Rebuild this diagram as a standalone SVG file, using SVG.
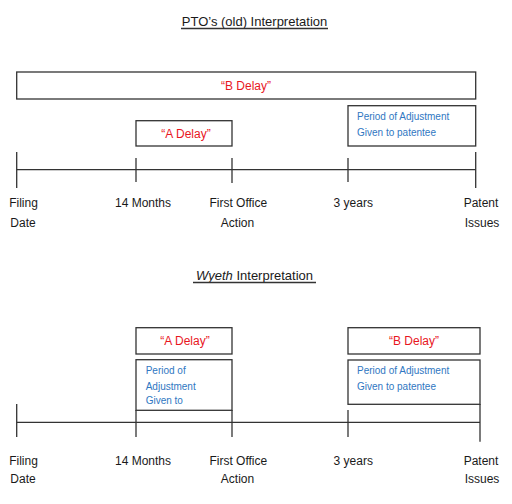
<svg xmlns="http://www.w3.org/2000/svg" width="512" height="504" viewBox="0 0 512 504">
<style>
text{font-family:"Liberation Sans",Arial,sans-serif;}
.title{font-size:13px;fill:#1a1a1a;text-anchor:middle;}
.lbl{font-size:12px;fill:#1a1a1a;text-anchor:middle;}
.red{font-size:12px;fill:#e8161e;text-anchor:middle;}
.blue{font-size:10px;fill:#2f77c2;}
.box{fill:#fff;stroke:#333;stroke-width:1.3;}
.ln{stroke:#333;stroke-width:1.3;fill:none;}
</style>
<rect width="512" height="504" fill="#fff"/>
<g id="title1">
<text class="title" x="254.5" y="26">PTO’s (old) Interpretation</text>
<line class="ln" x1="181" y1="28.5" x2="328" y2="28.5" stroke-width="1"/>
</g>
<g id="title2">
<text class="title" x="254.5" y="280"><tspan font-style="italic">Wyeth</tspan> Interpretation</text>
<line class="ln" x1="193" y1="282.5" x2="316" y2="282.5" stroke-width="1"/>
</g>
<g id="connectors">
<line class="ln" x1="16.7" y1="169.7" x2="475.7" y2="169.7"/>
<line class="ln" x1="16.7" y1="152" x2="16.7" y2="188"/>
<line class="ln" x1="136" y1="158" x2="136" y2="182"/>
<line class="ln" x1="232" y1="158" x2="232" y2="183"/>
<line class="ln" x1="348" y1="158" x2="348" y2="182"/>
<line class="ln" x1="475.7" y1="152" x2="475.7" y2="188"/>
<line class="ln" x1="16.7" y1="422.3" x2="480" y2="422.3"/>
<line class="ln" x1="16.7" y1="404" x2="16.7" y2="437"/>
<line class="ln" x1="136" y1="410" x2="136" y2="437"/>
<line class="ln" x1="232" y1="410" x2="232" y2="437"/>
<line class="ln" x1="348" y1="410" x2="348" y2="437"/>
<line class="ln" x1="480" y1="404" x2="480" y2="441.7"/>
</g>
<g id="b-delay-1">
<rect class="box" x="16.7" y="72" width="459" height="27"/>
<text class="red" x="246" y="90">“B Delay”</text>
</g>
<g id="adjust-1">
<rect class="box" x="348" y="105.7" width="127.7" height="40.3"/>
<text class="blue" x="357" y="120">Period of Adjustment</text>
<text class="blue" x="357" y="136">Given to patentee</text>
</g>
<g id="a-delay-1">
<rect class="box" x="136" y="120.7" width="96" height="25.3"/>
<text class="red" x="186" y="138">“A Delay”</text>
</g>
<g id="labels-1">
<text class="lbl" x="23.5" y="207">Filing</text>
<text class="lbl" x="23" y="227">Date</text>
<text class="lbl" x="143" y="207">14 Months</text>
<text class="lbl" x="238.3" y="207">First Office</text>
<text class="lbl" x="237.5" y="227">Action</text>
<text class="lbl" x="353.3" y="207">3 years</text>
<text class="lbl" x="481" y="207">Patent</text>
<text class="lbl" x="482" y="227">Issues</text>
</g>
<g id="a-delay-2">
<rect class="box" x="136" y="327.7" width="96" height="26.3"/>
<text class="red" x="185" y="345">“A Delay”</text>
</g>
<g id="adjust-2a">
<rect class="box" x="136" y="359.7" width="96" height="50.6"/>
<text class="blue" x="145.7" y="374.3">Period of</text>
<text class="blue" x="145.7" y="390">Adjustment</text>
<text class="blue" x="145.7" y="404">Given to</text>
</g>
<g id="b-delay-2">
<rect class="box" x="348" y="327.7" width="132" height="26.3"/>
<text class="red" x="414" y="345">“B Delay”</text>
</g>
<g id="adjust-2b">
<rect class="box" x="348" y="360" width="132" height="44.3"/>
<text class="blue" x="357" y="374.3">Period of Adjustment</text>
<text class="blue" x="357" y="390">Given to patentee</text>
</g>
<g id="labels-2">
<text class="lbl" x="23.5" y="465">Filing</text>
<text class="lbl" x="23" y="483">Date</text>
<text class="lbl" x="143" y="465">14 Months</text>
<text class="lbl" x="238.3" y="465">First Office</text>
<text class="lbl" x="237.5" y="483">Action</text>
<text class="lbl" x="353.3" y="465">3 years</text>
<text class="lbl" x="481" y="465">Patent</text>
<text class="lbl" x="482" y="483">Issues</text>
</g>
</svg>
